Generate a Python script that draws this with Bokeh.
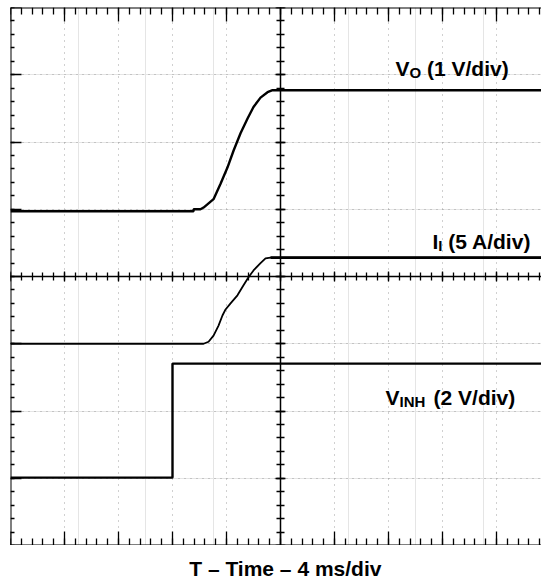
from bokeh.plotting import figure
from bokeh.models import Range1d, LinearAxis, SingleIntervalTicker, Grid
from bokeh.layouts import column
from bokeh.core.properties import value
from bokeh.embed import file_html
from bokeh.resources import INLINE

# ---- data (time in ms, 4 ms/div) ----
vo_t = [0, 13.56, 13.56, 14.07, 14.30, 15.04, 15.56, 16.07, 16.52, 17.04, 17.56, 18.00, 18.52, 19.04, 19.41, 40]
vo_v = [0.0, 0.0, 0.03, 0.03, 0.055, 0.18, 0.41, 0.65, 0.90, 1.16, 1.38, 1.55, 1.69, 1.77, 1.80, 1.80]

ii_t = [0, 14.30, 14.67, 15.04, 15.41, 15.70, 15.93, 16.30, 16.81, 17.26, 17.63, 18.00, 18.52, 18.89, 19.26, 40]
ii_a = [0, 0, 0.15, 0.6, 1.35, 2.1, 2.55, 3.0, 3.6, 4.35, 4.95, 5.45, 6.0, 6.35, 6.41, 6.41]

vinh_t = [0, 12.0, 12.0, 40]
vinh_v = [0, 0, 3.39, 3.39]

# channel settings: (units per div, ground position in div)
vo_scale, vo_pos = 1.0, 4.97
ii_scale, ii_pos = 5.0, 3.0
vinh_scale, vinh_pos = 2.0, 1.01

time_per_div = 4
n_ydiv = 8
caption = "T – Time – 4 ms/div"

FONT = value("Liberation Sans")

p = figure(width=541, height=545, output_backend="svg", toolbar_location=None,
           x_range=Range1d(0, 531 / 54 * time_per_div), y_range=Range1d(0, n_ydiv),
           x_axis_location=None, y_axis_location=None,
           min_border_left=10, min_border_right=0, min_border_top=7, min_border_bottom=0)
p.outline_line_color = None
p.background_fill_color = "white"
p.border_fill_color = "white"

p.extra_y_ranges = {
    "vo": Range1d(-vo_pos * vo_scale, (n_ydiv - vo_pos) * vo_scale),
    "ii": Range1d(-ii_pos * ii_scale, (n_ydiv - ii_pos) * ii_scale),
    "vinh": Range1d(-vinh_pos * vinh_scale, (n_ydiv - vinh_pos) * vinh_scale),
}

# dotted graticule
gx = Grid(dimension=0, ticker=SingleIntervalTicker(interval=time_per_div),
          grid_line_color="#a0a0a0", grid_line_dash="1 5", grid_line_width=1)
gy = Grid(dimension=1, ticker=SingleIntervalTicker(interval=1),
          grid_line_color="#a0a0a0", grid_line_dash="1 5", grid_line_width=1)
p.add_layout(gx)
p.add_layout(gy)


def mk_axis(side, loc, interval, maj_in, min_in, maj_out, min_out, width):
    ax = LinearAxis(ticker=SingleIntervalTicker(interval=interval, num_minor_ticks=5),
                    fixed_location=loc)
    ax.major_label_text_color = None
    ax.axis_line_color = "black"
    ax.axis_line_width = width
    ax.major_tick_line_color = "black"
    ax.minor_tick_line_color = "black"
    ax.major_tick_line_width = 1.3
    ax.minor_tick_line_width = 1.3
    ax.major_tick_in = maj_in
    ax.minor_tick_in = min_in
    ax.major_tick_out = maj_out
    ax.minor_tick_out = min_out
    p.add_layout(ax, side)
    return ax

# frame borders with inward ticks
mk_axis("left", 0, 1, 11, 4, 0, 0, 2)
mk_axis("above", n_ydiv, time_per_div, 14, 7, 0, 0, 2)
mk_axis("below", 0, time_per_div, 14, 7, 0, 0, 2)
# center crosshair
mk_axis("left", 5 * time_per_div, 1, 5, 4, 5, 4, 1.5)
mk_axis("below", n_ydiv / 2, time_per_div, 5, 4, 5, 4, 1.5)

# traces
p.line(vo_t, vo_v, y_range_name="vo", line_color="black", line_width=2.4)
p.line(ii_t, ii_a, y_range_name="ii", line_color="black", line_width=1.8)
p.line(ii_t[-2:], ii_a[-2:], y_range_name="ii", line_color="black", line_width=2.8)
p.line(vinh_t, vinh_v, y_range_name="vinh", line_color="black", line_width=2.4)

# channel labels (main text, subscript, rest)
def label(x, y, main, sub, rest, sub_dx, rest_dx):
    common = dict(text_font=FONT, text_font_style="bold", text_color="black",
                  text_baseline="alphabetic", text_align="left")
    p.text(x=[x], y=[y], text=[main], text_font_size="21px", **common)
    p.text(x=[x], y=[y], text=[sub], text_font_size="15px", x_offset=sub_dx, y_offset=4, **common)
    p.text(x=[x], y=[y], text=[rest], text_font_size="21px", x_offset=rest_dx, **common)

label(28.52, 7.093, "V", "O", "(1 V/div)", 14.0, 31.5)
label(31.26, 4.520, "I", "I", "(5 A/div)", 5.8, 15.8)
label(27.78, 2.201, "V", "INH", "(2 V/div)", 14.0, 48.0)

# caption strip below the screen (same time scale, offset by the left margin)
cap = figure(width=541, height=34, output_backend="svg", toolbar_location=None,
             x_range=Range1d(-10 / 54 * time_per_div, 531 / 54 * time_per_div),
             y_range=Range1d(-34, 0),
             x_axis_location=None, y_axis_location=None,
             min_border_left=0, min_border_right=0, min_border_top=0, min_border_bottom=0)
cap.outline_line_color = None
cap.xgrid.visible = False
cap.ygrid.visible = False
cap.text(x=[5 * time_per_div], y=[-23], text=[caption], text_font=FONT,
         text_font_style="bold", text_font_size="21px", text_color="black",
         text_align="center", text_baseline="alphabetic")

layout = column(p, cap, spacing=0)
open("out.html", "w").write(file_html(layout, INLINE))
